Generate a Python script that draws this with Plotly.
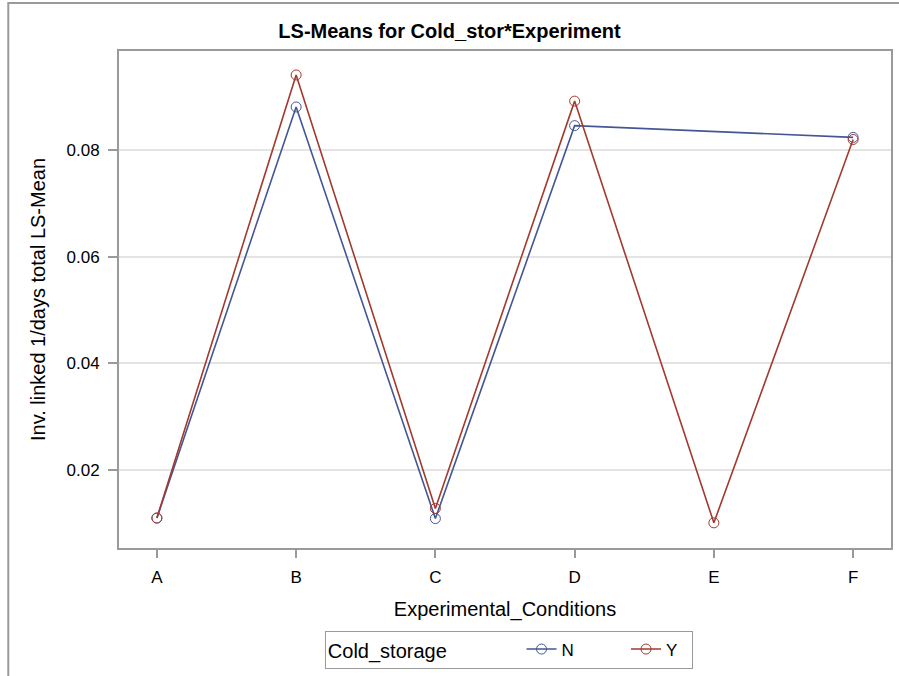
import plotly.graph_objects as go

# LS-means by experimental condition, one series per cold storage level
conditions = ["A", "B", "C", "D", "E", "F"]
ls_mean_n = [0.0110, 0.0881, 0.0109, 0.0846, None, 0.0824]
ls_mean_y = [0.0110, 0.0941, 0.0128, 0.0892, 0.0101, 0.0820]
y_ticks = [0.02, 0.04, 0.06, 0.08]

FONT = "Liberation Sans"
AXIS_GRAY = "#9a9a9a"

fig = go.Figure()
series = [("N", ls_mean_n, "#445694", " " * 10), ("Y", ls_mean_y, "#a23a2e", "  ")]
for name, vals, color, pad in series:
    fig.add_trace(go.Scatter(
        x=conditions, y=vals, name=name + pad, mode="lines+markers",
        connectgaps=True,
        line=dict(color=color, width=1.6),
        marker=dict(symbol="circle-open", size=10, color=color, line=dict(width=1)),
    ))

fig.update_layout(
    width=899, height=676,
    margin=dict(l=119, r=6, t=51, b=128),
    paper_bgcolor="white", plot_bgcolor="white",
    font=dict(family=FONT, size=17, color="black"),
    title=dict(text="<b>LS-Means for Cold_stor*Experiment</b>", x=0.5, xanchor="center",
               y=1 - 31 / 676, yanchor="middle", font=dict(size=20)),
    legend=dict(
        orientation="h", x=0.505, xanchor="center", y=-0.166, yanchor="top",
        title=dict(text="Cold_storage" + " " * 12, side="left"),
        bordercolor=AXIS_GRAY, borderwidth=1, font=dict(size=17),
    ),
    showlegend=True,
)

fig.update_xaxes(
    type="category", range=[-0.272, 5.272],
    showline=True, linecolor=AXIS_GRAY, linewidth=2, mirror=True,
    ticks="outside", ticklen=8, tickcolor=AXIS_GRAY, tickwidth=2,
    ticklabelstandoff=5,
    showgrid=False, tickfont=dict(size=17),
    title=dict(text="Experimental_Conditions", standoff=16),
)
fig.update_yaxes(
    range=[0.00538, 0.0986],
    tickvals=y_ticks, tickformat=".2f",
    showline=True, linecolor=AXIS_GRAY, linewidth=2, mirror=True,
    ticks="outside", ticklen=9, tickcolor=AXIS_GRAY, tickwidth=2,
    ticklabelstandoff=5,
    showgrid=True, gridcolor="#e4e4e4", gridwidth=1.5,
    zeroline=False, tickfont=dict(size=17),
    title=dict(text="Inv. linked 1/days total LS-Mean", standoff=16),
)

# outer graph border, partly cut off at right and bottom
fig.add_shape(type="rect", xref="paper", yref="paper",
              x0=(8 - 119) / 774, x1=1.2, y0=-0.4, y1=1 + 48 / 497,
              line=dict(color=AXIS_GRAY, width=2), layer="below")

# drop the default page margin so the figure sits at the window origin
fig.write_html("out.html", config={"displayModeBar": False},
               post_script="document.body.style.margin='0';")
